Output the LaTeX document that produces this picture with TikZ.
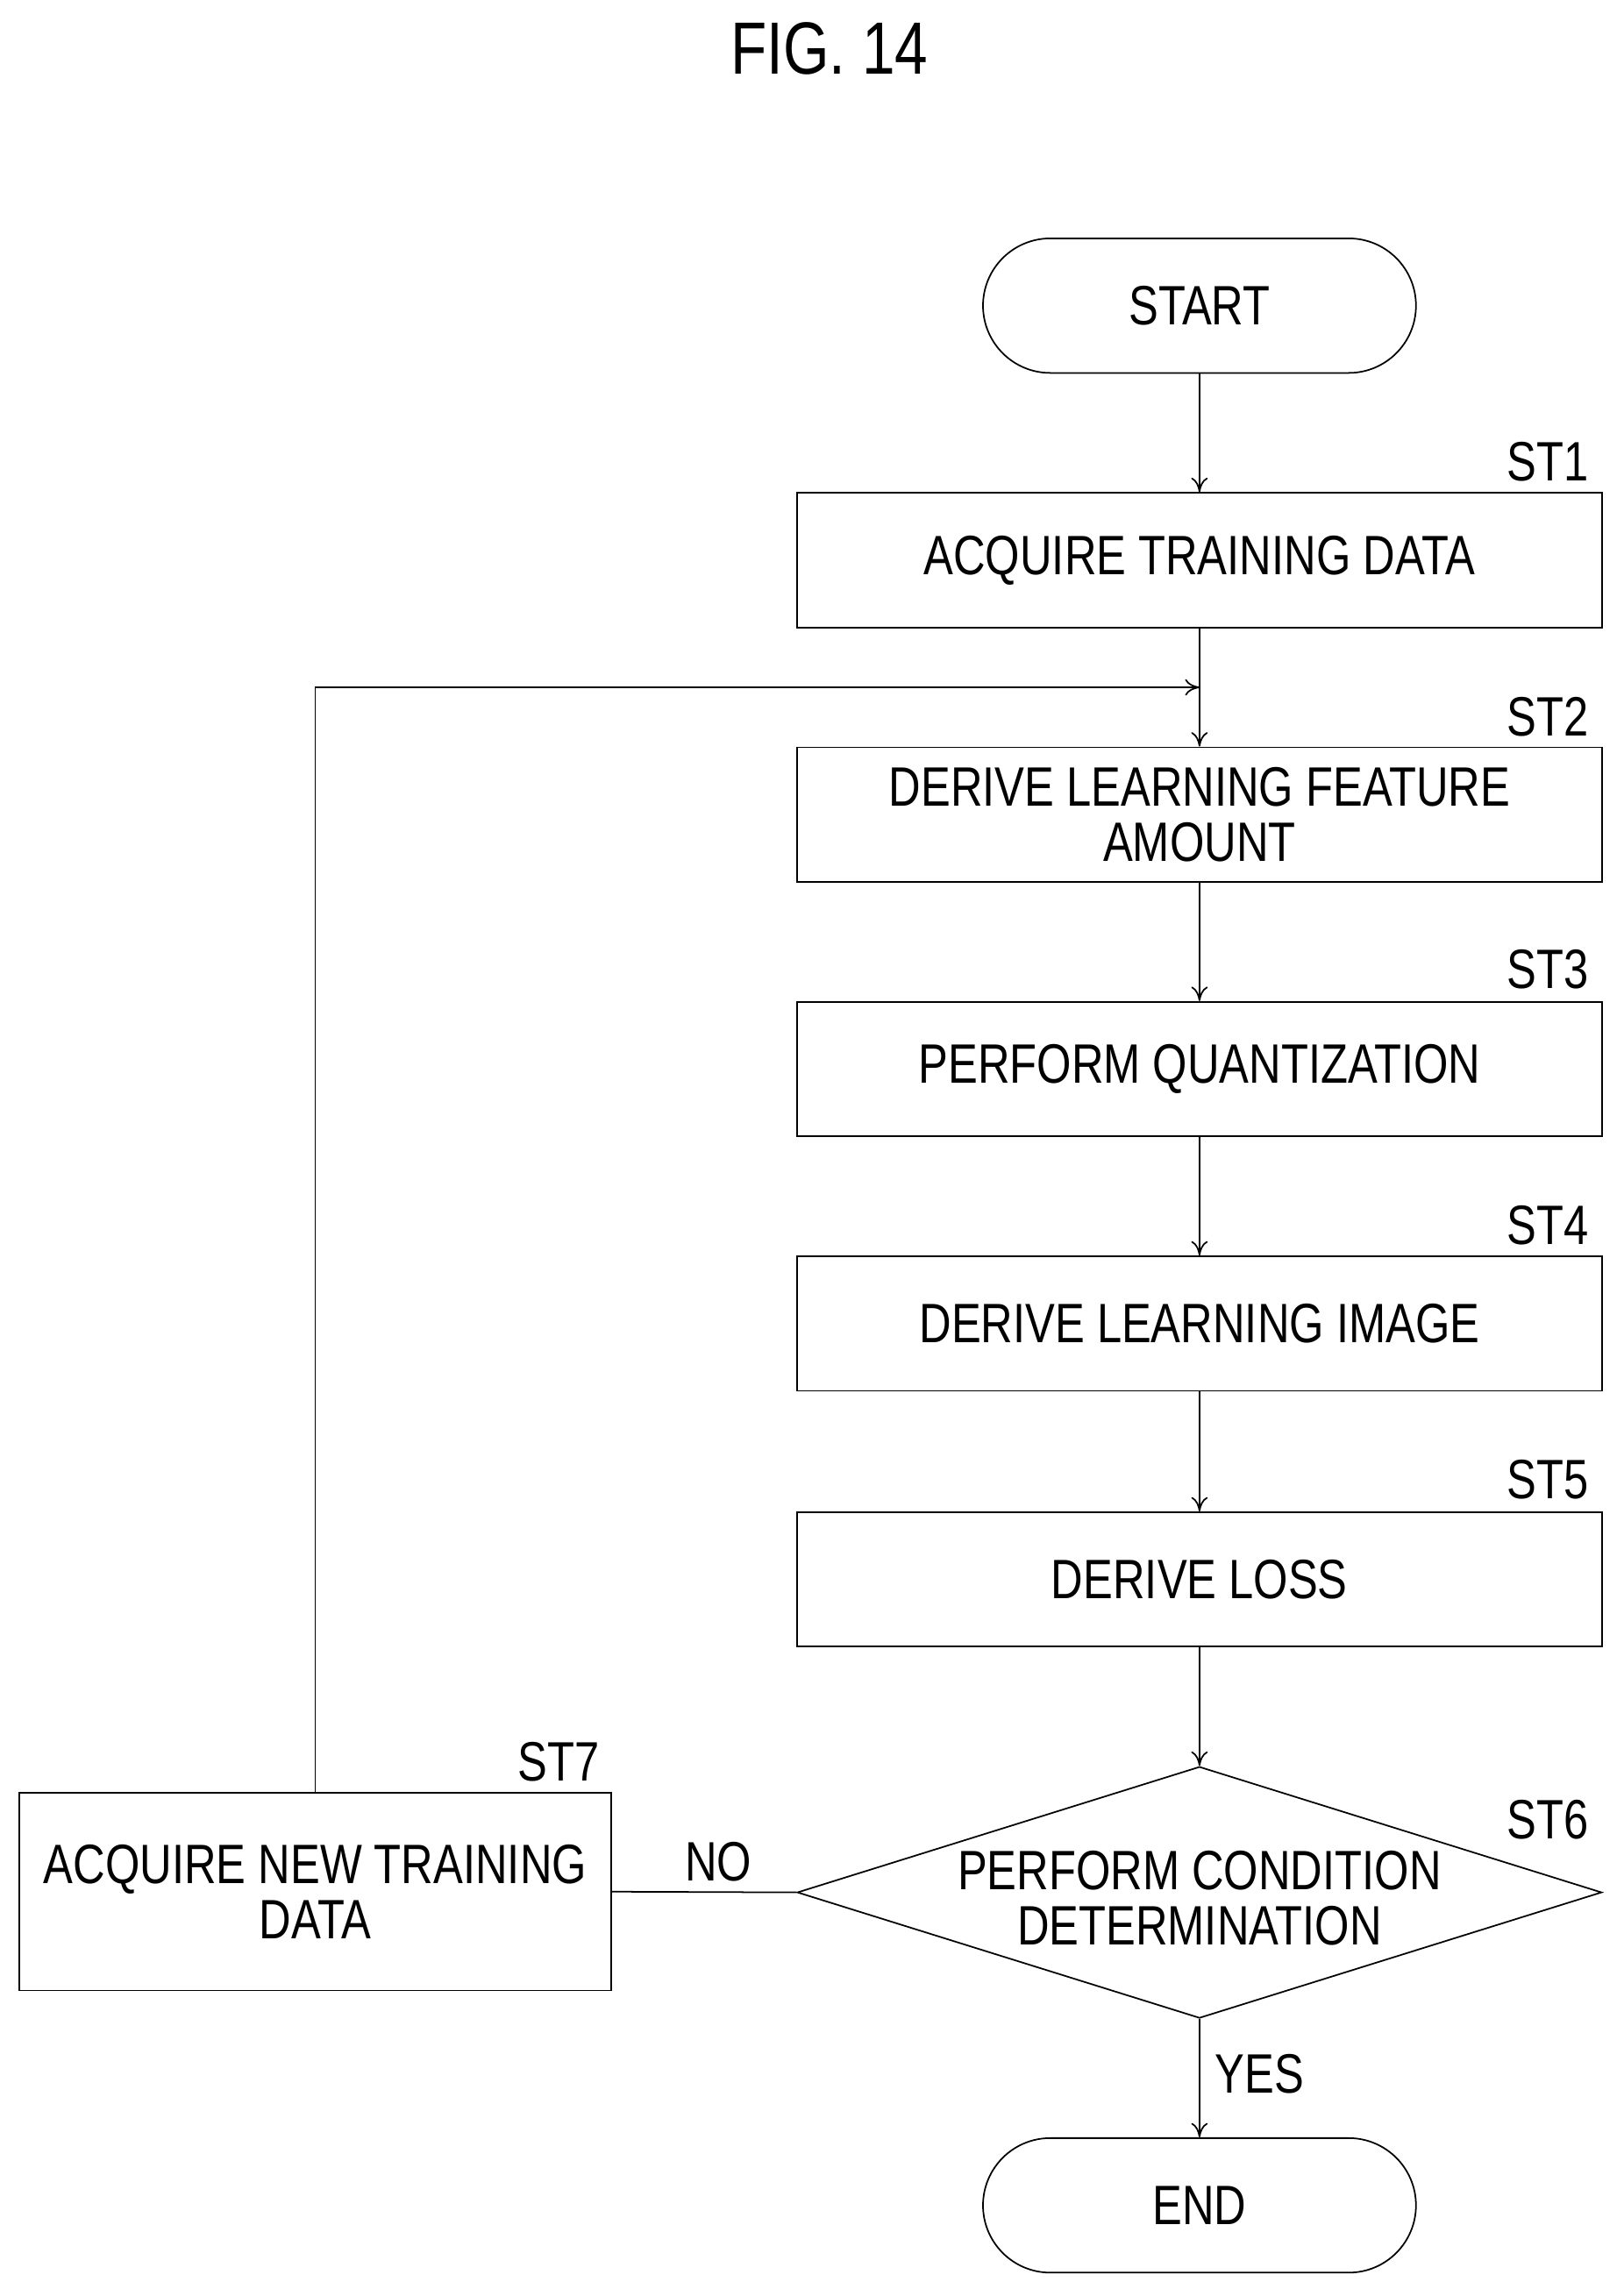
\documentclass[tikz,border=0pt]{standalone}
\usepackage{fontspec}
\setmainfont{Liberation Sans}[FakeStretch=0.8]
\usetikzlibrary{shapes.geometric,arrows.meta}
\begin{document}
\begin{tikzpicture}[x=0.05cm,y=-0.05cm,
  every node/.style={font=\fontsize{54}{60}\selectfont},
  ln/.style={line width=1.5pt},
  box/.style={ln,draw,rectangle,minimum width=27.5cm,minimum height=4.6cm,align=center,inner sep=0pt},
  arr/.style={ln,-{To[length=14pt,width=16pt]}}]
\useasboundingbox (0,0) rectangle (1110,1570);
\node[font=\fontsize{72}{80}\selectfont] at (567,33) {FIG. 14};
\node[ln,draw,rounded corners=2.3cm,minimum width=14.8cm,minimum height=4.6cm] (start) at (820,209) {START};
\node[box] (s1) at (820,383) {ACQUIRE TRAINING DATA};
\node[box] (s2) at (820,557) {DERIVE LEARNING FEATURE\\[-6pt]AMOUNT};
\node[box] (s3) at (820,731) {PERFORM QUANTIZATION};
\node[box] (s4) at (820,905) {DERIVE LEARNING IMAGE};
\node[box] (s5) at (820,1080) {DERIVE LOSS};
\node[ln,draw,diamond,aspect=3.2,minimum width=27.5cm,minimum height=8.6cm,inner sep=0pt] (s6) at (820,1294) {};
\node[align=center] (t6) at (820,1298) {PERFORM CONDITION\\[-6pt]DETERMINATION};
\node[ln,draw,rectangle,minimum width=20.25cm,minimum height=6.75cm,align=center,inner sep=0pt] (s7) at (215.5,1293.5) {ACQUIRE NEW TRAINING\\[-6pt]DATA};
\node[ln,draw,rounded corners=2.3cm,minimum width=14.8cm,minimum height=4.6cm] (end) at (820,1508) {END};
\node (l1) at (1058,316) {ST1};
\node (l2) at (1058,490) {ST2};
\node (l3) at (1058,663) {ST3};
\node (l4) at (1058,838) {ST4};
\node (l5) at (1058,1012) {ST5};
\node (l6) at (1058,1244) {ST6};
\node (l7) at (382,1205) {ST7};
\node (no) at (491,1273) {NO};
\node (yes) at (861,1418) {YES};
\coordinate (j) at (820,470);
\draw[arr] (start) -- (s1);
\draw[arr] (s1) -- (s2);
\draw[arr] (s2) -- (s3);
\draw[arr] (s3) -- (s4);
\draw[arr] (s4) -- (s5);
\draw[arr] (s5) -- (s6);
\draw[arr] (s6) -- (end);
\draw[ln] (s6.west) -- (s7.east);
\draw[arr] (s7.north) |- (j);
\end{tikzpicture}
\end{document}
